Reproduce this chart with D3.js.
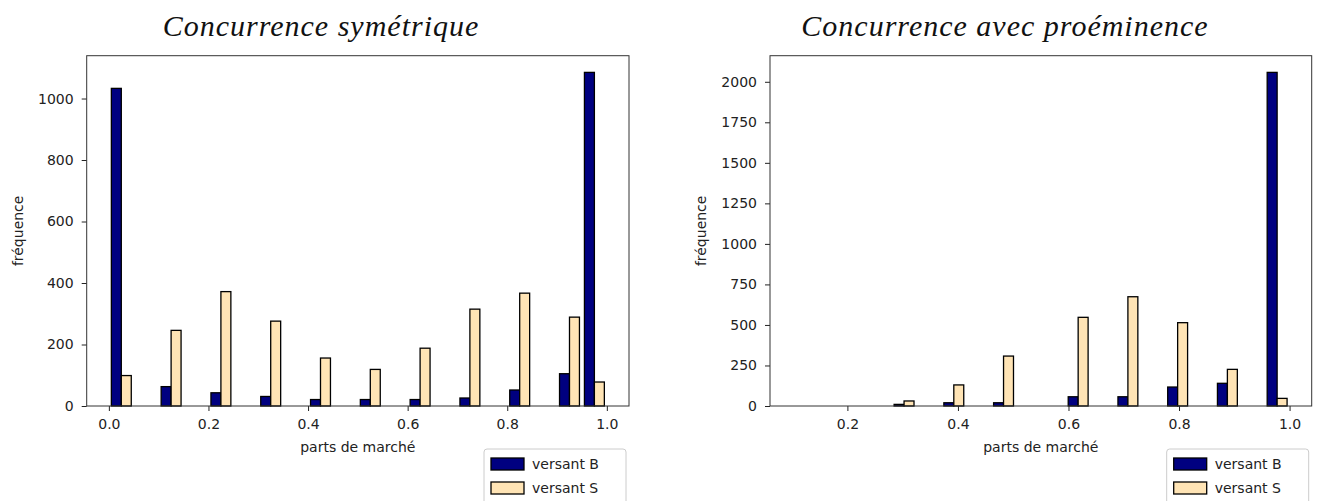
<!DOCTYPE html>
<html>
<head>
<meta charset="utf-8">
<script src="https://cdn.jsdelivr.net/npm/d3@7"></script>
<style>
  html, body { margin: 0; padding: 0; background: #fff; }
  svg { display: block; }
</style>
</head>
<body>
<svg id="fig" width="1322" height="501"></svg>
<script>
// Market-share values (each draw lands on a multiple of 0.1) and their frequencies
const partsSym = [0.0, 0.1, 0.2, 0.3, 0.4, 0.5, 0.6, 0.7, 0.8, 0.9, 1.0];
const versantBSym = [1033, 63, 43, 31, 21, 21, 21, 26, 52, 105, 1085];
const versantSSym = [99, 246, 372, 276, 156, 119, 188, 315, 367, 289, 78];

const partsProm = [0.1, 0.2, 0.3, 0.4, 0.5, 0.6, 0.7, 0.8, 0.9, 1.0];
const versantBProm = [0, 0, 10, 20, 20, 57, 57, 117, 140, 2058];
const versantSProm = [0, 0, 31, 130, 308, 547, 674, 514, 226, 47];

const xTicksSym = [0.0, 0.2, 0.4, 0.6, 0.8, 1.0];
const yTicksSym = [0, 200, 400, 600, 800, 1000];
const xTicksProm = [0.2, 0.4, 0.6, 0.8, 1.0];
const yTicksProm = [0, 250, 500, 750, 1000, 1250, 1500, 1750, 2000];

const seriesNames = ["versant B", "versant S"];
const panelTitles = ["Concurrence symétrique", "Concurrence avec proéminence"];
const xLabel = "parts de marché";
const yLabel = "fréquence";
const binCount = 20;

const colors = ["#000080", "#FFE4B5"];
const svg = d3.select("#fig");
const tickFont = "DejaVu Sans, sans-serif";

function drawPanel(opts) {
  const { box, parts, series, xTicks, yTicks, title, titleX } = opts;
  const g = svg.append("g");

  // histogram bins over the data range, two series side by side (80% of each bin)
  const lo = d3.min(parts), hi = d3.max(parts);
  const bw = (hi - lo) / binCount;
  const binOf = v => Math.min(binCount - 1, Math.floor((v - lo) / bw + 1e-9));
  const barW = 0.4 * bw;
  const barsMin = lo + 0.1 * bw, barsMax = hi - 0.1 * bw;
  const pad = 0.05 * (barsMax - barsMin);

  const x = d3.scaleLinear().domain([barsMin - pad, barsMax + pad]).range([box.x0, box.x1]);
  const yMax = d3.max(series.flat());
  const y = d3.scaleLinear().domain([0, yMax * 1.05]).range([box.y1, box.y0]);

  // bars
  series.forEach((vals, s) => {
    const rows = parts.map((p, i) => ({ p, v: vals[i] })).filter(d => d.v > 0);
    g.append("g").selectAll("rect").data(rows).join("rect")
      .attr("x", d => x(lo + binOf(d.p) * bw + 0.1 * bw + s * barW))
      .attr("width", d => x(barW) - x(0))
      .attr("y", d => y(d.v))
      .attr("height", d => y(0) - y(d.v))
      .attr("fill", colors[s])
      .attr("stroke", "#000")
      .attr("stroke-width", 1.3);
  });

  // axes
  const xAxis = g.append("g")
    .attr("transform", `translate(0,${box.y1})`)
    .call(d3.axisBottom(x).tickValues(xTicks).tickFormat(d3.format(".1f")).tickSize(5).tickPadding(8));
  const yAxis = g.append("g")
    .attr("transform", `translate(${box.x0},0)`)
    .call(d3.axisLeft(y).tickValues(yTicks).tickFormat(d3.format("d")).tickSize(5).tickPadding(8));
  [xAxis, yAxis].forEach(a => {
    a.select(".domain").remove();
    a.selectAll(".tick line").attr("stroke", "#222").attr("stroke-width", 1);
    a.selectAll(".tick text").attr("fill", "#222")
      .style("font-family", tickFont).style("font-size", "14px");
  });

  // frame
  g.append("rect")
    .attr("x", box.x0).attr("y", box.y0)
    .attr("width", box.x1 - box.x0).attr("height", box.y1 - box.y0)
    .attr("fill", "none").attr("stroke", "#333").attr("stroke-width", 1);

  // axis labels
  g.append("text")
    .attr("x", (box.x0 + box.x1) / 2).attr("y", 452)
    .attr("text-anchor", "middle")
    .style("font-family", tickFont).style("font-size", "14px").attr("fill", "#222")
    .text(xLabel);
  g.append("text")
    .attr("transform", `translate(${opts.yLabelX},${(box.y0 + box.y1) / 2}) rotate(-90)`)
    .attr("text-anchor", "middle").attr("dy", "0.35em")
    .style("font-family", tickFont).style("font-size", "14px").attr("fill", "#222")
    .text(yLabel);

  // title
  g.append("text")
    .attr("x", titleX).attr("y", 36)
    .attr("text-anchor", "middle")
    .style("font-family", "Liberation Serif, serif").style("font-style", "italic")
    .style("font-size", "30px").style("letter-spacing", "1px").attr("fill", "#111")
    .text(title);

  // legend
  const lg = g.append("g").attr("transform", `translate(${box.x1 - 145},449)`);
  lg.append("rect").attr("x", 0).attr("y", 0).attr("width", 142).attr("height", 60)
    .attr("rx", 3).attr("fill", "#fff").attr("stroke", "#ccc").attr("stroke-width", 1);
  seriesNames.forEach((name, s) => {
    const yy = 9 + s * 24;
    lg.append("rect").attr("x", 7).attr("y", yy).attr("width", 33).attr("height", 12)
      .attr("fill", colors[s]).attr("stroke", "#000").attr("stroke-width", 1.3);
    lg.append("text").attr("x", 48).attr("y", yy + 6).attr("dy", "0.35em")
      .style("font-family", tickFont).style("font-size", "14px").attr("fill", "#222")
      .text(name);
  });
}

drawPanel({
  box: { x0: 86.7, x1: 629, y0: 55.7, y1: 406 },
  parts: partsSym, series: [versantBSym, versantSSym],
  xTicks: xTicksSym, yTicks: yTicksSym,
  title: panelTitles[0], titleX: 321, yLabelX: 18
});
drawPanel({
  box: { x0: 770, x1: 1311.7, y0: 55.7, y1: 406 },
  parts: partsProm, series: [versantBProm, versantSProm],
  xTicks: xTicksProm, yTicks: yTicksProm,
  title: panelTitles[1], titleX: 1005, yLabelX: 701
});
</script>
</body>
</html>
